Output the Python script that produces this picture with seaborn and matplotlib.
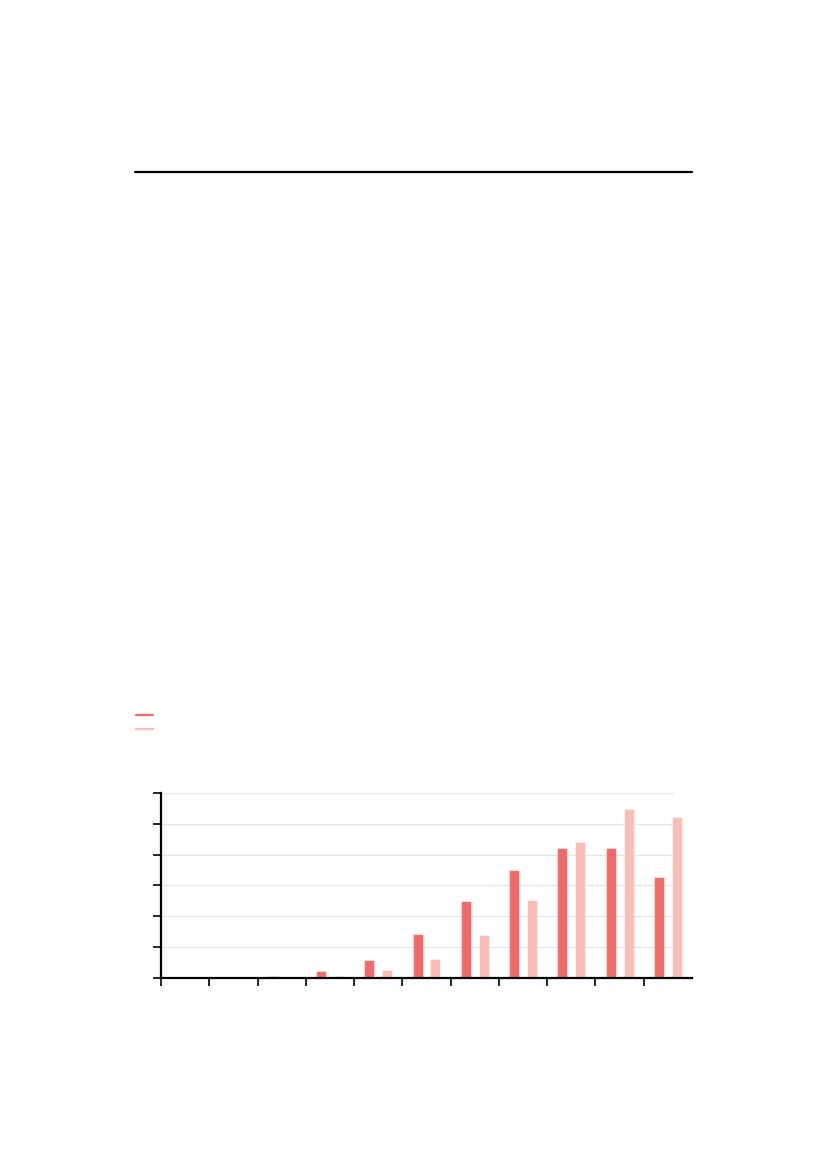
import numpy as np
import pandas as pd
import matplotlib
matplotlib.use("Agg")
import matplotlib.pyplot as plt
from matplotlib.lines import Line2D
import seaborn as sns

# values, one gridline = 10 (no labels in the reference)
groups = [str(i) for i in range(11)]
series_a = [0.0, 0.0, 0.6, 2.3, 5.8, 14.2, 24.9, 34.9, 42.0, 42.0, 32.7]
series_b = [0.0, 0.0, 0.0, 0.6, 2.7, 6.0, 13.9, 25.3, 44.0, 54.7, 52.2]
series_names = ["a", "b"]
colors = ["#F26A68", "#F9BFB4"]
grid_vals = [10, 20, 30, 40, 50, 60]

df = pd.DataFrame({
    "group": groups * 2,
    "value": series_a + series_b,
    "series": [series_names[0]] * len(groups) + [series_names[1]] * len(groups),
})

sns.set_style("white")
fig = plt.figure(figsize=(8.27, 11.69), dpi=100)
ax = fig.add_axes([0.1947, 0.1634, 0.6421, 0.1583])

sns.barplot(data=df, x="group", y="value", hue="series", order=groups,
            hue_order=series_names, palette=colors, saturation=1,
            width=0.74, gap=0.44, edgecolor=(1, 1, 1, 0.5), linewidth=0.8,
            legend=False, ax=ax)

for g in grid_vals:
    ax.axhline(g, xmin=0, xmax=0.964, color="#e6e6e6", lw=1.0, zorder=0)

ax.set_xlim(-0.5, len(groups) - 0.5)
ax.set_ylim(0, 60)
ax.set_xticks(np.arange(len(groups)) - 0.5)
ax.set_yticks([0] + grid_vals)
ax.set_xticklabels([])
ax.set_yticklabels([])
ax.set_xlabel("")
ax.set_ylabel("")
ax.tick_params(axis="both", length=6, width=1.2, color="black", bottom=True, left=True)
for side in ["top", "right"]:
    ax.spines[side].set_visible(False)
for side in ["left", "bottom"]:
    ax.spines[side].set_color("black")
    ax.spines[side].set_linewidth(1.6)

# legend swatches without labels
handles = [Line2D([0], [0], color=c, lw=1.6) for c in colors]
fig.legend(handles, ["", ""], loc="upper left", bbox_to_anchor=(0.1574, 0.3969),
           frameon=False, handlelength=1.53, handletextpad=0, labelspacing=0.38,
           borderpad=0, fontsize=8)

# top rule
fig.add_artist(Line2D([135 / 827, 692 / 827], [1 - 172 / 1169, 1 - 172 / 1169],
                      color="black", lw=1.6, transform=fig.transFigure))

fig.savefig("out.png", dpi=100)
